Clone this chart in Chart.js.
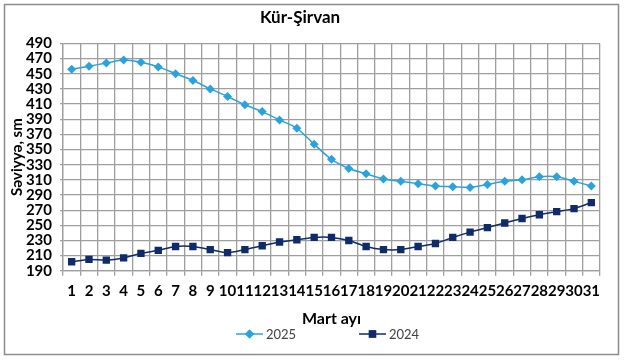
<!DOCTYPE html>
<html>
<head>
<meta charset="utf-8">
<script src="https://cdn.jsdelivr.net/npm/chart.js@4/dist/chart.umd.min.js"></script>
<style>
  html,body{margin:0;padding:0;background:#fff;}
  #wrap{width:624px;height:362px;}
</style>
</head>
<body>
<div id="wrap"><canvas id="chart" width="624" height="362"></canvas></div>
<script>
// ----- data -----
const days = ['1','2','3','4','5','6','7','8','9','10','11','12','13','14','15','16','17','18','19','20','21','22','23','24','25','26','27','28','29','30','31'];
const level2025 = [456,460,464,468,465,459,450,441,430,420,409,400,389,378,357,337,325,318,311,308,305,302,301,300,304,308,310,314,314,308,302];
const level2024 = [202,205,204,207,213,217,222,222,218,214,218,223,228,231,234,234,230,222,218,218,222,226,234,241,247,253,259,264,268,272,280];
const yMin = 190, yMax = 490, yStep = 20;

const c2025 = '#2aa3dc';
const c2024 = '#0f2b6b';
const gridCol = '#9e9e9e';

// frame + legend drawn around the chart (legend like the Excel one: line + marker)
const framePlugin = {
  id: 'frame',
  afterDraw(chart){
    const ctx = chart.ctx;
    ctx.save();
    ctx.strokeStyle = '#8c8c8c';
    ctx.lineWidth = 1.5;
    ctx.strokeRect(4.5, 4.5, 614, 350);

    const items = [
      {x:236, ds:chart.data.datasets[0], text:'2025'},
      {x:359, ds:chart.data.datasets[1], text:'2024'}
    ];
    const y = 334;
    items.forEach(it=>{
      ctx.strokeStyle = it.ds.borderColor;
      ctx.lineWidth = 1.5;
      ctx.beginPath(); ctx.moveTo(it.x, y); ctx.lineTo(it.x+27, y); ctx.stroke();
      ctx.fillStyle = it.ds.borderColor;
      Chart.helpers.drawPoint(ctx, {pointStyle: it.ds.pointStyle, rotation:0, radius: it.ds.pointRadius}, it.x+13.5, y);
      ctx.fill();
      ctx.fillStyle = '#404040';
      ctx.font = '13px Lato, "Open Sans", sans-serif';
      ctx.textBaseline = 'middle';
      ctx.fillText(it.text, it.x+30, y+1);
    });
    ctx.restore();
  }
};

const ctx = document.getElementById('chart').getContext('2d');
const chart = new Chart(ctx, {
  type: 'line',
  data: {
    labels: days,
    datasets: [
      {label:'2025', data: level2025, borderColor:c2025, backgroundColor:c2025, borderWidth:1.5,
       pointStyle:'rectRot', pointRadius:4.5, pointBorderWidth:0, tension:0.3},
      {label:'2024', data: level2024, borderColor:c2024, backgroundColor:c2024, borderWidth:1.5,
       pointStyle:'rect', pointRadius:5.2, pointBorderWidth:0, tension:0.3}
    ]
  },
  options: {
    responsive:false,
    animation:false,
    layout:{padding:{left:0, right:24, top:0, bottom:34}},
    plugins:{
      legend:{display:false},
      tooltip:{enabled:false},
      title:{display:true, text:'Kür-Şirvan', color:'#000',
        font:{family:'Lato, "Open Sans", sans-serif', size:17, weight:'bold'},
        padding:{top:7, bottom:16}}
    },
    scales:{
      x:{
        offset:true,
        grid:{offset:true, color:gridCol, lineWidth:1.3, tickLength:5, tickColor:gridCol},
        border:{color:gridCol, width:1.3},
        ticks:{autoSkip:false, maxRotation:0, minRotation:0, padding:6, color:'#000',
          font:{family:'Lato, "Open Sans", sans-serif', size:15, weight:'bold'}},
        title:{display:true, text:'Mart ayı', color:'#000', padding:{top:3, bottom:0},
          font:{family:'Lato, "Open Sans", sans-serif', size:16, weight:'bold'}}
      },
      y:{
        min:yMin, max:yMax,
        afterFit(scale){ scale.width = 63; },
        grid:{color:gridCol, lineWidth:1.3, tickLength:3, tickColor:gridCol},
        border:{color:gridCol, width:1.3},
        ticks:{stepSize:yStep, autoSkip:false, padding:8, color:'#000',
          font:{family:'Lato, "Open Sans", sans-serif', size:15, weight:'bold'}},
        title:{display:true, text:'Səviyyə, sm', color:'#000', padding:{top:8, bottom:0},
          font:{family:'Lato, "Open Sans", sans-serif', size:15, weight:'bold'}}
      }
    }
  },
  plugins:[framePlugin]
});
</script>
</body>
</html>
